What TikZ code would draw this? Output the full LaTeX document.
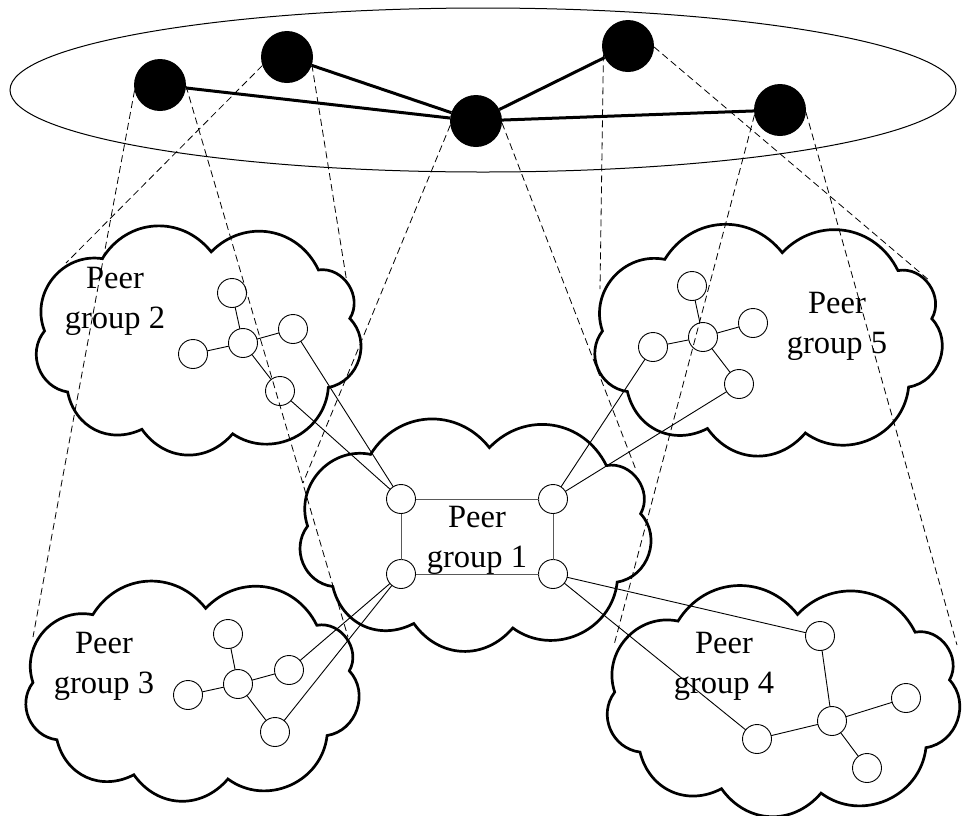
\documentclass[tikz,border=0pt]{standalone}
\usepackage{fontspec}
\setmainfont{Liberation Serif}
\usetikzlibrary{shapes.geometric}
\begin{document}
\begin{tikzpicture}[x=1pt,y=-1pt,
  cloudline/.style={draw, line width=2.7pt, line join=miter},
  puff/.style={bend left=#1, looseness=1.12},
  peer/.style={circle, draw, line width=0.9pt, minimum size=29pt, inner sep=0pt, outer sep=0pt},
  hub/.style={circle, fill=black, minimum size=52pt, inner sep=0pt, outer sep=0pt},
  backbone/.style={line width=3pt},
  link/.style={line width=0.9pt},
  ringlink/.style={line width=1pt, black!65},
  proj/.style={dash pattern=on 7pt off 4pt, line width=0.8pt},
  grouplabel/.style={align=center, font=\fontsize{32.5}{40}\selectfont, inner sep=0pt},
  pics/puffcloud/.style 2 args={code={
    \draw[cloudline]
      (-0.93*#1,-0.08*#2) to[puff=60] (-0.58*#1,-0.72*#2)
      to[puff=55] (0.08*#1,-0.78*#2)
      to[puff=55] (0.73*#1,-0.62*#2)
      to[puff=65] (0.92*#1,-0.19*#2)
      to[puff=62] (0.79*#1,0.42*#2)
      to[puff=60] (0.21*#1,0.83*#2)
      to[puff=52] (-0.34*#1,0.79*#2)
      to[puff=52] (-0.79*#1,0.46*#2)
      to[puff=60] (-0.93*#1,-0.08*#2) -- cycle;
  }}
]
\useasboundingbox (0,0) rectangle (966,815);

% peer group clouds
\pic (cl2) at (198,340) {puffcloud={165}{113}};
\pic (cl5) at (768,340) {puffcloud={178}{112}};
\pic (cl1) at (475,535) {puffcloud={180}{112}};
\pic (cl3) at (192,691) {puffcloud={171}{106}};
\pic (cl4) at (783,701) {puffcloud={181}{111}};

% group labels
\node[grouplabel] (lab2) at (115,301) {Peer\\group 2};
\node[grouplabel] (lab5) at (837,326) {Peer\\group 5};
\node[grouplabel] (lab1) at (477,540) {Peer\\group 1};
\node[grouplabel] (lab3) at (104,666) {Peer\\group 3};
\node[grouplabel] (lab4) at (724,666) {Peer\\group 4};

% peers of group 1
\node[peer] (p1tl) at (401,499) {};
\node[peer] (p1tr) at (553,499) {};
\node[peer] (p1bl) at (401,574) {};
\node[peer] (p1br) at (553,574) {};
% peers of group 2
\node[peer] (p2t) at (232,293) {};
\node[peer] (p2c) at (243,343) {};
\node[peer] (p2l) at (193,354) {};
\node[peer] (p2r) at (293,329) {};
\node[peer] (p2b) at (280,391) {};
% peers of group 5
\node[peer] (p5t) at (692,286) {};
\node[peer] (p5c) at (703,337) {};
\node[peer] (p5l) at (653,347) {};
\node[peer] (p5r) at (753,323) {};
\node[peer] (p5b) at (739,384) {};
% peers of group 3
\node[peer] (p3t) at (228,634) {};
\node[peer] (p3c) at (238,684) {};
\node[peer] (p3l) at (188,695) {};
\node[peer] (p3r) at (289,670) {};
\node[peer] (p3b) at (275,732) {};
% peers of group 4
\node[peer] (p4t) at (820,636) {};
\node[peer] (p4c) at (832,721) {};
\node[peer] (p4l) at (757,739) {};
\node[peer] (p4r) at (906,698) {};
\node[peer] (p4b) at (867,768) {};

% links inside group 1
\draw[ringlink] (p1tl) -- (p1tr) -- (p1br) -- (p1bl) -- (p1tl);
% stars inside the other groups
\foreach \g in {2,5,3,4}{
  \draw[link] (p\g c) -- (p\g t);
  \draw[link] (p\g c) -- (p\g l);
  \draw[link] (p\g c) -- (p\g r);
  \draw[link] (p\g c) -- (p\g b);
}
% links between groups
\draw[link] (p2r) -- (p1tl);
\draw[link] (p2b) -- (p1tl);
\draw[link] (p5l) -- (p1tr);
\draw[link] (p5b) -- (p1tr);
\draw[link] (p3r) -- (p1bl);
\draw[link] (p3b) -- (p1bl);
\draw[link] (p4t) -- (p1br);
\draw[link] (p4l) -- (p1br);

% top level ring
\node[draw, ellipse, line width=1pt, minimum width=946pt, minimum height=164pt, inner sep=0pt] (top) at (483,90) {};

% super peers
\node[hub] (A) at (160,85) {};
\node[hub] (B) at (287,57) {};
\node[hub] (C) at (476,121) {};
\node[hub] (D) at (628,46) {};
\node[hub] (E) at (780,110) {};
\draw[backbone] (A) -- (C);
\draw[backbone] (B) -- (C);
\draw[backbone] (C) -- (D);
\draw[backbone] (C) -- (E);

% projections of super peers onto their groups
\coordinate (a3l) at (33,637);
\coordinate (a3r) at (348,637);
\coordinate (b2l) at (66,263);
\coordinate (b2r) at (347,283);
\coordinate (c1l) at (303,483);
\coordinate (c1r) at (636,470);
\coordinate (d5l) at (600,289);
\coordinate (d5r) at (930,281);
\coordinate (e4l) at (614,645);
\coordinate (e4r) at (957,645);
\draw[proj] (A.192) -- (a3l);
\draw[proj] (A.358) -- (a3r);
\draw[proj] (B.199) -- (b2l);
\draw[proj] (B.343) -- (b2r);
\draw[proj] (C.189) -- (c1l);
\draw[proj] (C.356) -- (c1r);
\draw[proj] (D.199) -- (d5l);
\draw[proj] (D.358) -- (d5r);
\draw[proj] (E.191) -- (e4l);
\draw[proj] (E.355) -- (e4r);
\end{tikzpicture}
\end{document}
